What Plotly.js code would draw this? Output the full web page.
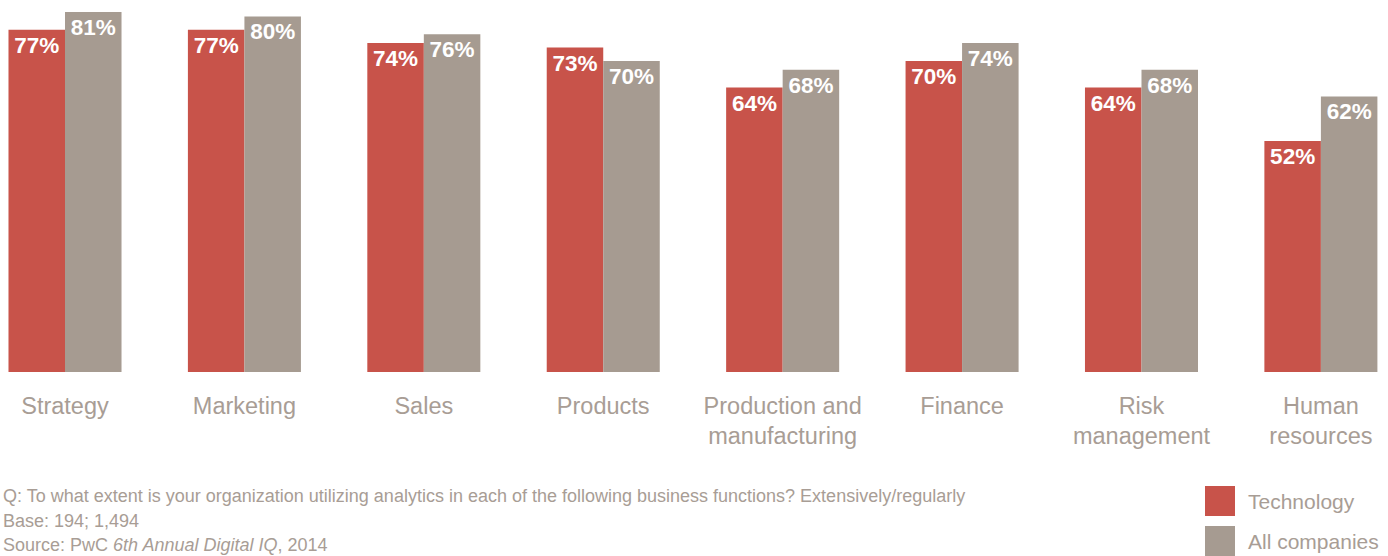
<!DOCTYPE html>
<html><head><meta charset="utf-8">
<script src="https://cdn.plot.ly/plotly-3.0.1.min.js"></script>
<style>html,body{margin:0;padding:0;background:#fff;}#chart{width:1388px;height:556px;}</style>
</head><body><div id="chart"></div>
<script>
const categories = ["Strategy","Marketing","Sales","Products","Production and<br>manufacturing","Finance","Risk<br>management","Human<br>resources"];
const technology = [77,77,74,73,64,70,64,52];
const allCompanies = [81,80,76,70,68,74,68,62];
const seriesNames = ["Technology","All companies"];
const notes = [
  "Q: To what extent is your organization utilizing analytics in each of the following business functions? Extensively/regularly",
  "Base: 194; 1,494",
  "Source: PwC <i>6th Annual Digital IQ</i>, 2014"
];
const colors = ["#c8534a","#a69b91"];
const textColor = "#a89d95";
const fontFam = "'Liberation Sans', Arial, sans-serif";

const mk = (vals, i) => ({
  type: "bar", name: seriesNames[i], x: categories, y: vals,
  marker: {color: colors[i], line: {width: 0}},
  text: vals.map(v => v + "%"), textposition: "inside", insidetextanchor: "end",
  textfont: {family: fontFam, size: 22.5, color: "#ffffff", weight: "bold"},
  textangle: 0, hoverinfo: "skip", cliponaxis: false
});

const H = 360, B = 184;
const py = yPix => (556 - yPix - B) / H;
const px = xPix => xPix / 1388;

const noteY = [496, 521, 545];
const annotations = notes.map((t, i) => ({
  xref: "paper", yref: "paper", x: px(1), y: py(noteY[i]), xanchor: "left", yanchor: "middle", showarrow: false,
  text: t, font: {size: 18, color: textColor, family: fontFam}
}));
annotations.push(
  {xref: "paper", yref: "paper", x: px(1246), y: py(501), xanchor: "left", yanchor: "middle", showarrow: false,
   text: seriesNames[0], font: {size: 21, color: textColor, family: fontFam}},
  {xref: "paper", yref: "paper", x: px(1246), y: py(541), xanchor: "left", yanchor: "middle", showarrow: false,
   text: seriesNames[1], font: {size: 21, color: textColor, family: fontFam}}
);

const layout = {
  width: 1388, height: 556,
  margin: {l: 0, r: 0, t: 12, b: B},
  paper_bgcolor: "#fff", plot_bgcolor: "#fff",
  barmode: "group", bargap: 0.37, bargroupgap: 0,
  showlegend: false,
  font: {family: fontFam, color: textColor},
  xaxis: {type: "category", range: [-0.3623, 7.374], showgrid: false, zeroline: false, showline: false,
          ticks: "", tickfont: {family: fontFam, size: 23.5, color: textColor}, ticklabelstandoff: 17, fixedrange: true},
  yaxis: {range: [0, 81], visible: false, fixedrange: true},
  annotations: annotations,
  shapes: [
    {type: "rect", xref: "paper", yref: "paper", x0: px(1205), x1: px(1235),
     y0: py(516), y1: py(486), fillcolor: colors[0], line: {width: 0}},
    {type: "rect", xref: "paper", yref: "paper", x0: px(1205), x1: px(1235),
     y0: py(556), y1: py(526), fillcolor: colors[1], line: {width: 0}}
  ]
};

Plotly.newPlot("chart", [mk(technology, 0), mk(allCompanies, 1)], layout, {displayModeBar: false, staticPlot: true});
</script></body></html>
